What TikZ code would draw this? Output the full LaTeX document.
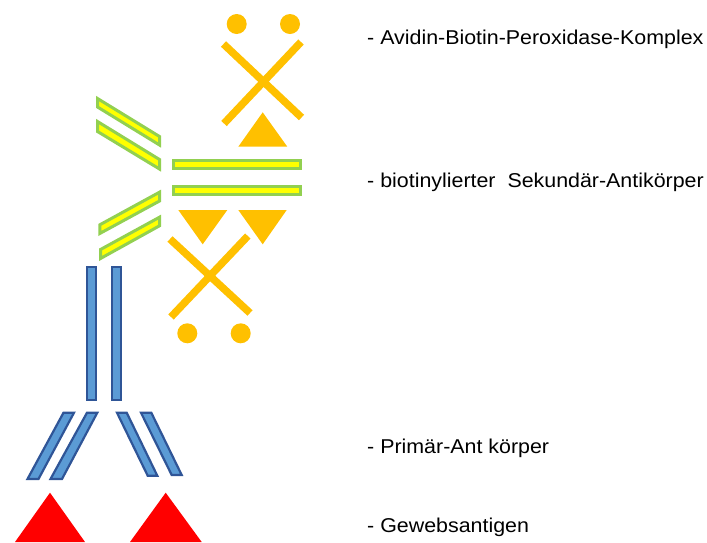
\documentclass[tikz,border=0pt]{standalone}
\usepackage{fontspec}
\setmainfont{Liberation Sans}[FakeStretch = 1.07]
\definecolor{abcorange}{HTML}{FFC000}
\definecolor{biogruen}{HTML}{92D050}
\definecolor{biogelb}{HTML}{FFFF00}
\definecolor{igblau}{HTML}{5B9BD5}
\definecolor{igrand}{HTML}{2F5597}
\tikzset{
  sekbar/.style = {draw = biogruen, fill = biogelb, line width = 3pt, line join = miter},
  primbar/.style = {draw = igrand, fill = igblau, line width = 2.2pt},
  abcstab/.style = {draw = abcorange, line width = 7.5pt},
  abcteil/.style = {fill = abcorange},
  antigen/.style = {fill = red},
  legende/.style = {anchor = base west, inner sep = 0pt, font = \fontsize{20}{24}\selectfont}
}
\begin{document}
\begin{tikzpicture}[x = 1pt, y = -1pt]
    \useasboundingbox (0, 0) rectangle (707, 542);
    % Avidin-Biotin-Peroxidase-Komplex oben
    \fill [abcteil] (236.7, 24) circle (10);
    \fill [abcteil] (290, 24) circle (10);
    \draw [abcstab] (223.5, 44) -- (301.5, 117.5);
    \draw [abcstab] (301, 42) -- (224, 123.5);
    \fill [abcteil] (262.7, 112.3) -- (287.3, 146.7) -- (238.3, 146.7) -- cycle;
    % biotinylierter Sekundaer-Antikoerper
    \draw [sekbar] (173.2, 160.8) rectangle (300.2, 168.5);
    \draw [sekbar] (173.2, 186.5) rectangle (300.2, 194.5);
    \draw [sekbar] (97.5, 98.5) -- (159.5, 136.5) -- (159.5, 145) -- (97.5, 107) -- cycle;
    \draw [sekbar] (97.5, 121.5) -- (159.5, 159.5) -- (159.5, 169) -- (97.5, 131.5) -- cycle;
    \draw [sekbar] (99.8, 224.8) -- (159.5, 192.2) -- (159.5, 201) -- (99.8, 233.5) -- cycle;
    \draw [sekbar] (100.5, 249.5) -- (159.5, 217.2) -- (159.5, 225.8) -- (100.5, 258.5) -- cycle;
    % Avidin-Biotin-Peroxidase-Komplex unten
    \fill [abcteil] (178.3, 210) -- (227.3, 210) -- (202.7, 244.3) -- cycle;
    \fill [abcteil] (238.3, 210) -- (286.7, 210) -- (262.7, 244.3) -- cycle;
    \draw [abcstab] (170, 239) -- (250, 313);
    \draw [abcstab] (247.8, 236) -- (171, 317);
    \fill [abcteil] (187.3, 333.3) circle (10);
    \fill [abcteil] (240.7, 333.3) circle (10);
    % Primaer-Antikoerper
    \draw [primbar] (87, 266.7) rectangle (96.3, 400);
    \draw [primbar] (112, 266.7) rectangle (120.7, 400);
    \draw [primbar] (63.5, 412.7) -- (74, 412.7) -- (38.5, 479) -- (27.5, 479) -- cycle;
    \draw [primbar] (87, 412.7) -- (97.3, 412.7) -- (62, 479) -- (50.5, 479) -- cycle;
    \draw [primbar] (117, 412.7) -- (126.7, 412.7) -- (157.3, 475.7) -- (147.7, 475.7) -- cycle;
    \draw [primbar] (141, 412.7) -- (151.3, 412.7) -- (181.7, 475) -- (171.7, 475) -- cycle;
    % Gewebsantigene
    \fill [antigen] (50, 492.7) -- (85, 542) -- (15, 542) -- cycle;
    \fill [antigen] (165.7, 492.7) -- (201.7, 542) -- (130, 542) -- cycle;
    % Beschriftung
    \node [legende] (abc) at (367, 44) {- Avidin-Biotin-Peroxidase-Komplex};
    \node [legende] (sek) at (367, 187.3) {- biotinylierter\ \ Sekundär-Antikörper};
    \node [legende] (prim) at (367, 453.3) {- Primär-Ant körper};
    \node [legende] (ag) at (367, 532.7) {- Gewebsantigen};
\end{tikzpicture}
\end{document}
